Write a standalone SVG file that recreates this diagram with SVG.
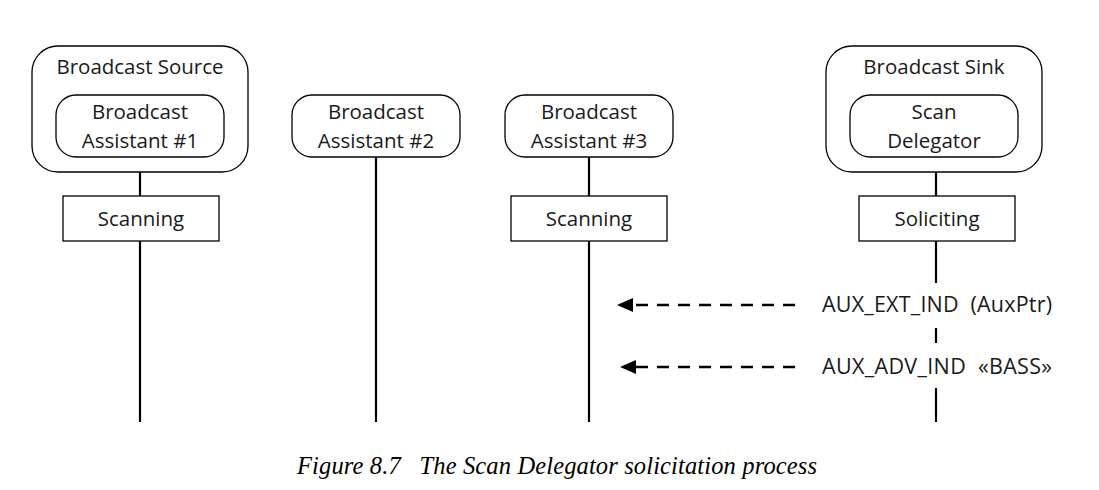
<svg xmlns="http://www.w3.org/2000/svg" width="1099" height="490" viewBox="0 0 1099 490">
<style>
.box{fill:#fff;stroke:#000;stroke-width:1.3}
.life{stroke:#000;stroke-width:2.2;fill:none}
.msg{stroke:#000;stroke-width:2.6;stroke-dasharray:12 9;fill:none}
.t{font-family:"Open Sans",sans-serif;font-size:20.5px;fill:#1a1a1a;text-anchor:middle}
.lbl{font-family:"Open Sans",sans-serif;font-size:21.5px;fill:#1a1a1a}
.cap{font-family:"Liberation Serif",serif;font-style:italic;font-size:24.5px;fill:#000}
</style>
<rect width="1099" height="490" fill="#fff"/>
<g id="connectors">
<line class="life" x1="140" y1="172" x2="140" y2="422"/>
<line class="life" x1="376" y1="157" x2="376" y2="422"/>
<line class="life" x1="589" y1="157" x2="589" y2="422"/>
<line class="life" x1="936" y1="172" x2="936" y2="283"/>
<line class="life" x1="936" y1="328" x2="936" y2="343"/>
<line class="life" x1="936" y1="388" x2="936" y2="422"/>
<line class="msg" x1="795" y1="305" x2="632" y2="305"/>
<path d="M617,305 L633,298 L633,312 z" fill="#000"/>
<line class="msg" x1="795" y1="367" x2="635" y2="367"/>
<path d="M620,367 L636,360 L636,374 z" fill="#000"/>
</g>
<g id="source">
<rect class="box" x="32" y="46" width="216" height="126" rx="26"/>
<text class="t" x="140" y="74" textLength="167">Broadcast Source</text>
</g>
<g id="ba1">
<rect class="box" x="56" y="95" width="168" height="62" rx="20"/>
<text class="t" x="140" y="119">Broadcast</text>
<text class="t" x="140" y="148">Assistant #1</text>
</g>
<g id="ba2">
<rect class="box" x="292" y="95" width="168" height="62" rx="20"/>
<text class="t" x="376" y="119">Broadcast</text>
<text class="t" x="376" y="148">Assistant #2</text>
</g>
<g id="ba3">
<rect class="box" x="505" y="95" width="168" height="62" rx="20"/>
<text class="t" x="589" y="119">Broadcast</text>
<text class="t" x="589" y="148">Assistant #3</text>
</g>
<g id="sink">
<rect class="box" x="826" y="46" width="216" height="126" rx="26"/>
<text class="t" x="934" y="74">Broadcast Sink</text>
</g>
<g id="delegator">
<rect class="box" x="850" y="95" width="168" height="62" rx="20"/>
<text class="t" x="934" y="119">Scan</text>
<text class="t" x="934" y="148">Delegator</text>
</g>
<g id="scan1">
<rect class="box" x="63" y="196" width="156" height="45"/>
<text class="t" x="141" y="226">Scanning</text>
</g>
<g id="scan3">
<rect class="box" x="511" y="196" width="156" height="45"/>
<text class="t" x="589" y="226">Scanning</text>
</g>
<g id="solicit">
<rect class="box" x="859" y="196" width="156" height="45"/>
<text class="t" x="937" y="226">Soliciting</text>
</g>
<g id="labels">
<text class="lbl" x="822" y="312" textLength="230" xml:space="preserve">AUX_EXT_IND  (AuxPtr)</text>
<text class="lbl" x="822" y="374" textLength="230" xml:space="preserve">AUX_ADV_IND  «BASS»</text>
</g>
<text class="cap" x="297" y="474" textLength="520" xml:space="preserve">Figure 8.7   The Scan Delegator solicitation process</text>
</svg>
